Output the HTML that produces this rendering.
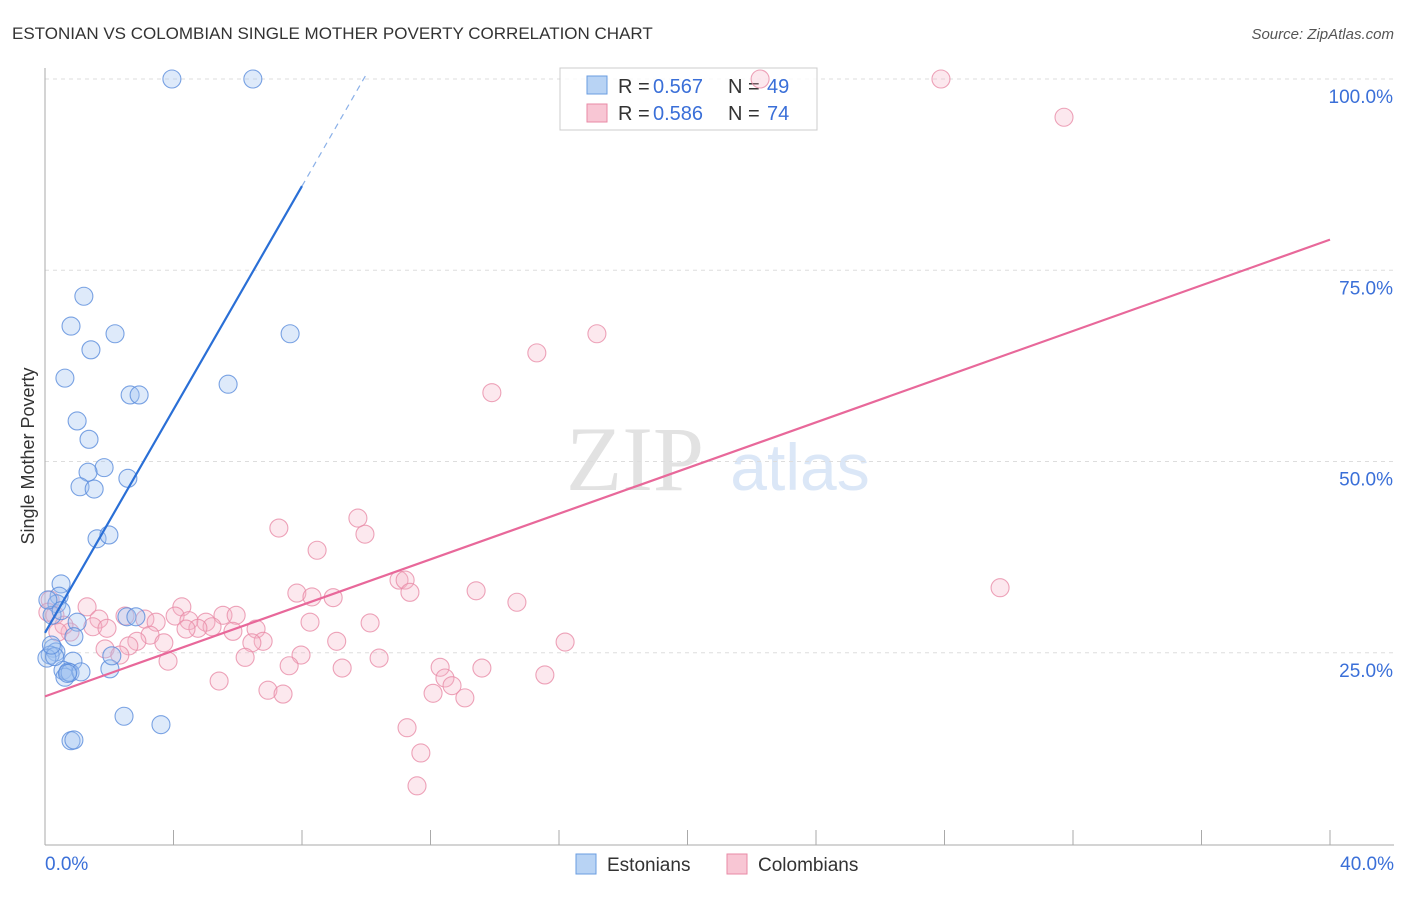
<!DOCTYPE html>
<html><head><meta charset="utf-8">
<style>
body{margin:0;background:#fff;font-family:"Liberation Sans",sans-serif;}
svg text{font-family:"Liberation Sans",sans-serif;}
</style></head>
<body>
<svg id="chart" width="1406" height="892" xmlns="http://www.w3.org/2000/svg">
<text x="12" y="39" font-size="17" fill="#333">ESTONIAN VS COLOMBIAN SINGLE MOTHER POVERTY CORRELATION CHART</text>
<text x="1394" y="39" font-size="15" fill="#555" text-anchor="end" font-style="italic">Source: ZipAtlas.com</text>
<text x="34" y="456" font-size="18" fill="#333" text-anchor="middle" transform="rotate(-90 34 456)">Single Mother Poverty</text>
<g>
<text x="635" y="490" font-size="92" fill="#e2e2e2" text-anchor="middle" style="font-family:'Liberation Serif',serif">ZIP</text>
<text x="800" y="490" font-size="66" fill="#dbe7f7" text-anchor="middle">atlas</text>
</g>
<g id="grid"></g>
<g id="axes"></g>
<g>
<rect x="560" y="68" width="257" height="62" fill="rgba(255,255,255,0.85)" stroke="#ccc"/>
<rect x="587" y="76" width="20" height="18" fill="#b8d3f4" stroke="#6a9ce0"/>
<text x="618" y="93" font-size="20" fill="#333">R =</text>
<text x="653" y="93" font-size="20" fill="#3a6fd8">0.567</text>
<text x="728" y="93" font-size="20" fill="#333">N =</text>
<text x="767" y="93" font-size="20" fill="#3a6fd8">49</text>
<rect x="587" y="104" width="20" height="18" fill="#f8c6d4" stroke="#e88aa6"/>
<text x="618" y="120" font-size="20" fill="#333">R =</text>
<text x="653" y="120" font-size="20" fill="#3a6fd8">0.586</text>
<text x="728" y="120" font-size="20" fill="#333">N =</text>
<text x="767" y="120" font-size="20" fill="#3a6fd8">74</text>
</g>
<g id="pts"></g>
<g id="lines"></g>
<g>
<rect x="576" y="854" width="20" height="20" fill="#b8d3f4" stroke="#6a9ce0"/>
<text x="607" y="871" font-size="19" fill="#333">Estonians</text>
<rect x="727" y="854" width="20" height="20" fill="#f8c6d4" stroke="#e88aa6"/>
<text x="758" y="871" font-size="19" fill="#333">Colombians</text>
</g>
</svg>
<script>
const yTicks=[25,50,75,100];
const yTickLabels=["25.0%","50.0%","75.0%","100.0%"];
const xTickLabels=["0.0%","40.0%"];
const estX=[3.95,6.47,1.21,0.81,2.18,7.63,1.43,0.62,5.70,2.65,2.93,1.0,1.37,1.84,1.34,2.58,1.09,1.53,1.62,1.99,0.5,0.44,0.37,0.22,1.0,2.55,2.83,0.9,0.25,0.34,0.16,0.87,0.56,0.72,0.62,0.78,1.12,2.02,2.08,2.46,3.61,0.81,0.9,0.09,0.06,0.3,0.2,0.7,0.5];
const estY=[100,100,71.6,67.7,66.7,66.7,64.6,60.9,60.1,58.7,58.7,55.3,52.9,49.2,48.6,47.8,46.7,46.4,39.9,40.4,34.0,32.4,31.4,29.9,29.0,29.7,29.7,27.1,25.6,25.1,24.7,23.9,22.7,22.5,21.8,22.4,22.5,22.9,24.6,16.7,15.6,13.5,13.6,31.9,24.3,24.5,26.0,22.3,30.5];
const colX=[22.26,27.89,31.72,17.18,15.31,13.91,7.28,9.74,9.96,8.47,11.02,11.21,11.36,13.42,29.73,14.69,7.84,8.31,8.97,4.26,1.31,2.49,3.11,1.68,3.46,4.05,5.54,5.95,4.48,5.01,5.2,4.76,4.39,5.85,6.57,8.25,10.12,1.49,1.93,0.78,3.27,2.86,3.7,2.61,6.79,6.44,9.08,16.19,1.87,2.33,6.23,7.97,10.4,3.83,7.6,9.25,12.3,13.6,15.56,5.42,12.45,12.67,6.94,7.41,12.08,13.07,11.27,11.7,11.58,0.16,0.31,0.59,0.4,0.09];
const colY=[100,100,95.0,66.7,64.2,59.0,41.3,42.6,40.5,38.4,34.5,34.5,32.9,33.1,33.5,31.6,32.8,32.3,32.2,31.0,31.0,29.8,29.4,29.4,29.0,29.8,29.9,29.9,29.2,29.0,28.4,28.2,28.1,27.8,28.1,29.0,28.9,28.4,28.2,27.7,27.3,26.5,26.3,25.9,26.5,26.3,26.5,26.4,25.5,24.7,24.4,24.7,24.3,23.9,23.3,23.0,23.1,23.0,22.1,21.3,21.7,20.7,20.1,19.6,19.7,19.1,15.2,11.9,7.6,31.9,29.9,28.6,27.7,30.3];
const estTrend=[[0,27.6],[8.0,86.0],[10.0,100.6]];
const colTrend=[[0,19.3],[40,79.0]];
const NS="http://www.w3.org/2000/svg";
const xs=v=>45+v/40*1285;
const ys=v=>844-v/100*765;
function mk(tag,attrs,parent){const e=document.createElementNS(NS,tag);for(const k in attrs)e.setAttribute(k,attrs[k]);document.getElementById(parent).appendChild(e);return e;}
yTicks.forEach((t,i)=>{
 const l=mk('line',{x1:45,x2:1394,y1:ys(t),y2:ys(t),stroke:'#ddd','stroke-dasharray':'4,4'},'grid');
 
 
 const tx=mk('text',{x:1393,y:ys(t)+24,'font-size':19,fill:'#3a6fd8','text-anchor':'end'},'grid');
 tx.textContent=yTickLabels[i];
 
 
});
const ax=mk('line',{x1:45,x2:45,y1:68,y2:845,stroke:'#aaa'},'axes');


const bx=mk('line',{x1:45,x2:1394,y1:845,y2:845,stroke:'#aaa'},'axes');


for(let i=0;i<=10;i++){
 const t=mk('line',{x1:xs(i*4),x2:xs(i*4),y1:830,y2:845,stroke:'#aaa'},'axes');
 
 
}
[[0,'start',45],[40,'end',1394]].forEach((d,i)=>{
 const tx=mk('text',{x:d[2],y:870,'font-size':19,fill:'#3a6fd8','text-anchor':d[1]},'axes');
 tx.textContent=xTickLabels[i];
 
 
});
colX.forEach((x,i)=>{
 const c=mk('circle',{cx:xs(x),cy:ys(colY[i]),r:9,fill:'rgba(246,180,200,0.3)',stroke:'rgba(232,140,168,0.8)','stroke-width':1.1},'pts');
 
 
});
estX.forEach((x,i)=>{
 const c=mk('circle',{cx:xs(x),cy:ys(estY[i]),r:9,fill:'rgba(160,195,240,0.35)',stroke:'rgba(90,140,220,0.8)','stroke-width':1.1},'pts');
 
 
});
const b1=mk('line',{x1:xs(estTrend[0][0]),y1:ys(estTrend[0][1]),x2:xs(estTrend[1][0]),y2:ys(estTrend[1][1]),stroke:'#2a6fd6','stroke-width':2.2},'lines');


const b2=mk('line',{x1:xs(estTrend[1][0]),y1:ys(estTrend[1][1]),x2:xs(estTrend[2][0]),y2:ys(estTrend[2][1]),stroke:'#8ab0e8','stroke-width':1.2,'stroke-dasharray':'6,5'},'lines');


const p1=mk('line',{x1:xs(colTrend[0][0]),y1:ys(colTrend[0][1]),x2:xs(colTrend[1][0]),y2:ys(colTrend[1][1]),stroke:'#e8689a','stroke-width':2.2},'lines');


</script>
</body></html>
